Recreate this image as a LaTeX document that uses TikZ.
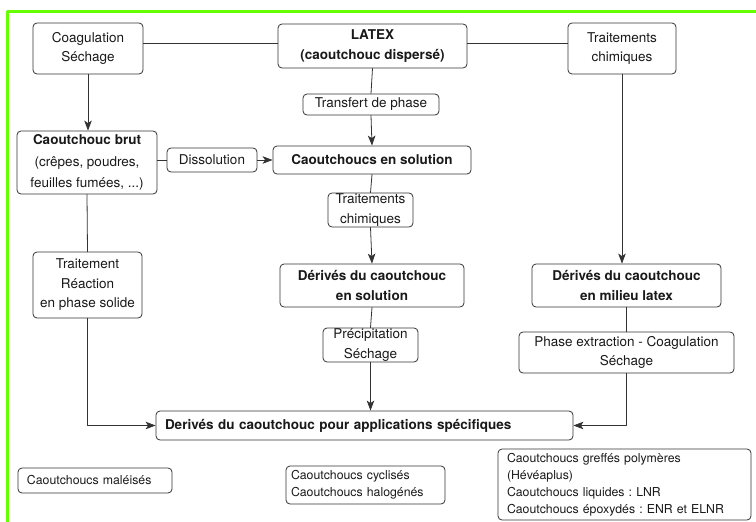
\documentclass[tikz,border=0pt]{standalone}
\usepackage{fontspec}
\setmainfont{TeX Gyre Heros}
\usetikzlibrary{arrows.meta, positioning}
\frenchspacing

\begin{document}
\begin{tikzpicture}[
  x=1pt, y=-1pt,
  line cap=round,
  line join=round,
  box/.style={draw=black!80, line width=0.8pt, rounded corners=4pt,
    inner sep=0pt, align=center, text=black!90,
    font=\fontsize{13.5}{19.5}\selectfont},
  boldbox/.style={box, font=\fontsize{13.5}{19.5}\selectfont\bfseries},
  listbox/.style={box, align=left, font=\fontsize{12.3}{17}\selectfont},
  link/.style={draw=black!80, line width=0.8pt},
  flow/.style={link, -{Stealth[length=10pt, width=7.5pt, inset=2.5pt]}}
]
  \useasboundingbox (0,0) rectangle (756,522);

  % Green frame (top and left only)
  \draw[line width=3pt, draw={rgb,255:red,102;green,255;blue,0}, line cap=butt]
    (756,11.5) -- (7.5,11.5) -- (7.5,522);

  % Top row
  \node[box, minimum width=110pt, minimum height=51pt] (coag) at (88,48.5)
    {Coagulation\\Séchage};
  \node[boldbox, minimum width=189pt, minimum height=44pt] (latex) at (372.5,46)
    {LATEX\\(caoutchouc dispersé)};
  \node[box, minimum width=108pt, minimum height=51pt] (trchimA) at (622,48.5)
    {Traitements\\chimiques};

  % Second row
  \node[box, minimum width=136pt, minimum height=21pt] (transfert) at (371,104.5)
    {Transfert de phase};
  \node[box, minimum width=140pt, minimum height=63pt,
    font=\fontsize{13.5}{21.5}\selectfont] (brut) at (87,162.5)
    {\textbf{Caoutchouc brut}\\(crêpes, poudres,\\feuilles fumées, ...)};
  \node[box, minimum width=90pt, minimum height=24pt] (dissol) at (212,160)
    {Dissolution};
  \node[boldbox, minimum width=198pt, minimum height=28pt] (solution) at (372,160)
    {Caoutchoucs en solution};

  % Middle column
  \node[box, minimum width=85pt, minimum height=34pt] (trchimB) at (370.5,210)
    {Traitements\\chimiques};
  \node[boldbox, minimum width=184pt, minimum height=43pt] (dersol) at (372,285.5)
    {Dérivés du caoutchouc\\en solution};
  \node[box, minimum width=95pt, minimum height=34pt] (precip) at (370.5,345)
    {Précipitation\\Séchage};

  % Left column
  \node[box, minimum width=109pt, minimum height=66pt] (reaction) at (87.5,285)
    {Traitement\\Réaction\\en phase solide};

  % Right column
  \node[boldbox, minimum width=189pt, minimum height=43pt] (derlatex) at (626.5,285.5)
    {Dérivés du caoutchouc\\en milieu latex};
  \node[box, minimum width=215pt, minimum height=41pt] (phase) at (626.5,352.5)
    {Phase extraction - Coagulation\\Séchage};

  % Final product
  \node[boldbox, align=left, inner xsep=9pt, text width=399pt,
    minimum height=29pt] (spec) at (364.5,425.5)
    {Derivés du caoutchouc pour applications spécifiques};

  % Examples
  \node[listbox, inner xsep=9pt, text width=136pt, minimum height=25pt]
    (maleises) at (95,480.5) {Caoutchoucs maléisés};
  \node[listbox, inner xsep=5pt, text width=149pt, minimum height=38pt]
    (cycl) at (365.5,485) {Caoutchoucs cyclisés\\Caoutchoucs halogénés};
  \node[listbox, inner xsep=9pt, text width=235pt, minimum height=71pt]
    (greffes) at (624.5,484.5)
    {Caoutchoucs greffés polymères\\(Hévéaplus)\\Caoutchoucs liquides : LNR\\Caoutchoucs époxydés : ENR et ELNR};

  % Connectors
  \draw[link] ([yshift=3pt]latex.west) -- ([yshift=3pt]latex.west -| coag.east);
  \draw[link] ([yshift=3pt]latex.east) -- ([yshift=3pt]latex.east -| trchimA.west);
  \draw[flow] (coag.south) -- (coag.south |- brut.north);
  \draw[link] (latex.south) -- (transfert.north);
  \draw[flow] (transfert.south) -- (solution.north);
  \draw[link] (dissol.west -| brut.east) -- (dissol.west);
  \draw[flow] (dissol.east) -- (solution.west);
  \draw[link] (solution.south) -- (trchimB.north);
  \draw[flow] (trchimB.south) -- (dersol.north);
  \draw[link] (dersol.south) -- (precip.north);
  \draw[flow] (precip.south) -- (precip.south |- spec.north);
  \draw[link] (brut.south) -- (reaction.north);
  \draw[flow] (reaction.south) |- (spec.west);
  \draw[flow] (trchimA.south) -- (trchimA.south |- derlatex.north);
  \draw[link] (derlatex.south) -- (phase.north);
  \draw[flow] (phase.south) |- (spec.east);
\end{tikzpicture}
\end{document}
